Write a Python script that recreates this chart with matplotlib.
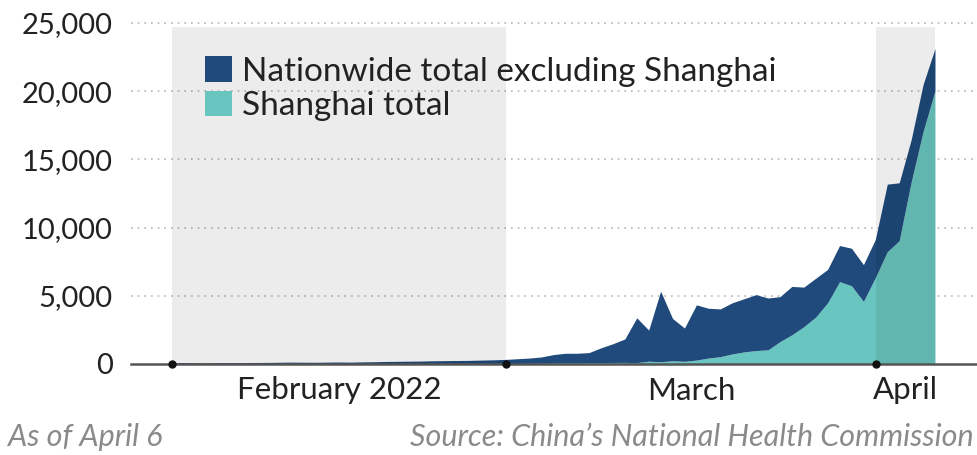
import numpy as np
import pandas as pd
import matplotlib
matplotlib.use('Agg')
import matplotlib.pyplot as plt
from matplotlib.patches import Patch

# daily new cases, Feb 1 -> Apr 6 2022
dates = pd.date_range('2022-02-01', '2022-04-06', freq='D')

nationwide_total = [
    # February
    60, 70, 55, 50, 65, 70, 60, 75, 80, 90, 100, 95, 90, 100,
    110, 100, 120, 130, 150, 160, 170, 180, 200, 210, 220, 230, 250, 270,
    # March
    300, 350, 400, 480, 650, 750, 750, 800, 1150, 1450, 1800, 3350, 2450, 5300,
    3300, 2600, 4300, 4050, 4000, 4450, 4750, 5050, 4800, 4900, 5650, 5600,
    6250, 6900, 8650, 8450, 7250,
    # April
    9100, 13150, 13250, 16400, 20450, 23100,
]

shanghai_total = [
    # February
    0, 0, 1, 0, 0, 1, 0, 0, 1, 0, 2, 1, 0, 1,
    2, 0, 1, 1, 0, 1, 2, 1, 3, 2, 4, 2, 3, 5,
    # March
    5, 3, 8, 19, 30, 48, 48, 65, 66, 75, 83, 64, 169, 130,
    200, 160, 250, 400, 500, 700, 850, 950, 1000, 1600, 2100, 2700,
    3400, 4450, 6000, 5700, 4550,
    # April
    6300, 8200, 9000, 13300, 17000, 20000,
]

month_starts = pd.to_datetime(['2022-02-01', '2022-03-01', '2022-04-01'])
month_label_pos = pd.to_datetime(['2022-02-15T00:00', '2022-03-16T12:00', '2022-04-03T12:00'])
month_labels = ['February 2022', 'March', 'April']
shaded = [('2022-02-01', '2022-03-01'), ('2022-04-01', '2022-04-06')]

navy = '#1f4a7b'
teal = '#69c5bf'

plt.rcParams['font.family'] = ['Lato', 'DejaVu Sans']

fig = plt.figure(figsize=(9.77, 4.55), dpi=100)
ax = fig.add_axes([131 / 977, 91 / 455, 846 / 977, 347.8 / 455])

shanghai = np.array(shanghai_total)
others = np.array(nationwide_total) - shanghai
ax.stackplot(dates, shanghai, others, colors=[teal, navy], zorder=2, linewidth=0)

# gray month bands (drawn over the areas, semi transparent)
for start, end in shaded:
    ax.fill_between(pd.to_datetime([start, end]), 0, 24700, color='black', alpha=0.075,
                    linewidth=0, zorder=3)

# grid and axis
ax.set_ylim(0, 25500)
x0 = dates[0] - pd.Timedelta(days=3.44)
x1 = dates[0] + pd.Timedelta(days=67.48)
ax.set_xlim(x0, x1)
ax.set_yticks([0, 5000, 10000, 15000, 20000, 25000])
ax.set_yticklabels(['0', '5,000', '10,000', '15,000', '20,000', '25,000'])
for v in [5000, 10000, 15000, 20000, 25000]:
    ax.axhline(v, color='#b5b5b5', linestyle=(0, (1, 3)), linewidth=1.2, zorder=1)
for s in ['top', 'right', 'left']:
    ax.spines[s].set_visible(False)
ax.spines['bottom'].set_color('#555555')
ax.spines['bottom'].set_linewidth(1.8)
ax.spines['bottom'].set_zorder(4)
ax.tick_params(axis='y', length=0, pad=13, labelsize=21, labelcolor='#222222')

ax.set_xticks(month_starts)
ax.set_xticklabels([])
ax.set_xticks(month_label_pos, minor=True)
ax.set_xticklabels(month_labels, minor=True)
ax.tick_params(axis='x', which='both', length=0)
ax.tick_params(axis='x', which='minor', pad=9, labelsize=22.5, labelcolor='#222222')

ax.plot(month_starts, [0] * len(month_starts), 'o', color='#111111', markersize=5,
        clip_on=False, zorder=6)

handles = [Patch(facecolor=navy, edgecolor='none', label='Nationwide total excluding Shanghai'),
           Patch(facecolor=teal, edgecolor='none', label='Shanghai total')]
leg = fig.legend(handles=handles, loc='upper left', bbox_to_anchor=(205 / 977, 1 - 56 / 455),
                 frameon=False, fontsize=24, handlelength=0.82, handleheight=0.82,
                 handletextpad=0.3, labelspacing=0.12, borderaxespad=0, borderpad=0)
for t in leg.get_texts():
    t.set_color('#222222')

fig.text(8 / 977, 1 - 437 / 455, 'As of April 6', fontsize=22, style='italic',
         color='#8a8a8a', va='center', ha='left')
fig.text(410 / 977, 1 - 437 / 455, 'Source: China\u2019s National Health Commission',
         fontsize=22, style='italic', color='#8a8a8a', va='center', ha='left')

fig.savefig('out.png', dpi=100)
